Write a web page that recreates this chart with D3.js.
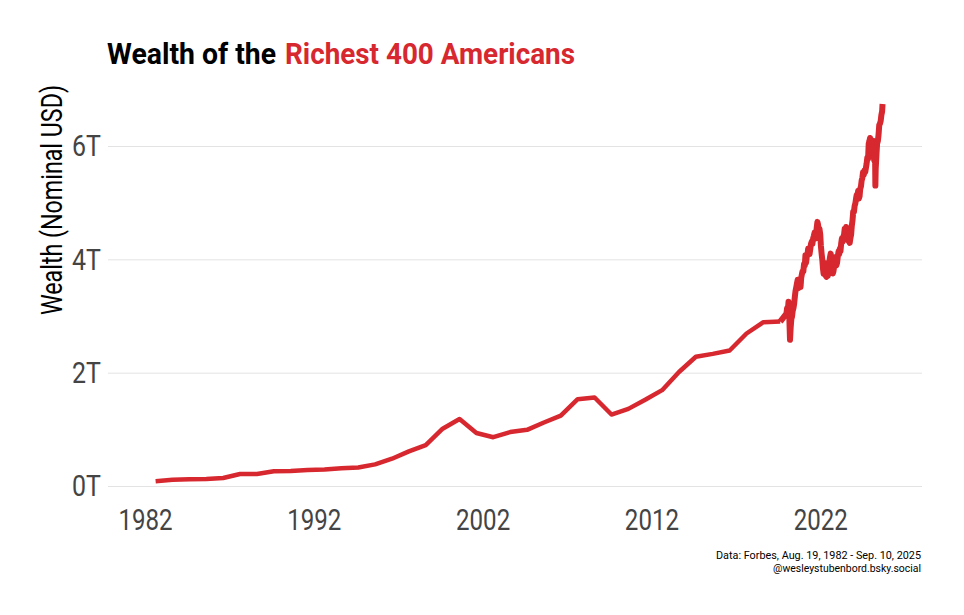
<!DOCTYPE html>
<html>
<head>
<meta charset="utf-8">
<script src="https://cdn.jsdelivr.net/npm/d3@7"></script>
<style>
  body { margin: 0; background: #fff; }
  text { font-family: Roboto, "Noto Sans", sans-serif; }
</style>
</head>
<body>
<script>

/* Forbes 400 annual list totals (trillions USD) */
var annualDates = ["1982-08-19","1983-08-20","1984-08-20","1985-08-20","1986-08-20","1987-08-20","1988-08-20","1989-08-20","1990-08-20","1991-08-20",
	"1992-08-20","1993-08-20","1994-08-20","1995-08-20","1996-08-20","1997-08-20","1998-08-20","1999-08-20","2000-08-20","2001-08-20",
	"2002-08-20","2003-08-20","2004-08-20","2005-08-20","2006-08-20","2007-08-20","2008-08-20","2009-08-20","2010-08-20","2011-08-20",
	"2012-08-20","2013-08-20","2014-08-20","2015-08-20","2016-08-20","2017-08-20","2018-08-20","2019-08-20"];
var annualValues = [0.092,0.118,0.126,0.134,0.150,0.220,0.222,0.268,0.272,0.290,
	0.300,0.320,0.335,0.390,0.490,0.620,0.730,1.020,1.190,0.945,
	0.870,0.960,1.000,1.130,1.250,1.540,1.570,1.270,1.370,1.530,
	1.700,2.020,2.290,2.340,2.400,2.700,2.900,2.910];

/* real-time estimates since 2020 (trillions USD) */
var rtDates = ["2020-01-01","2020-01-15","2020-02-01","2020-02-15","2020-03-01","2020-03-10","2020-03-18","2020-04-01","2020-04-15","2020-05-01",
	"2020-05-15","2020-06-01","2020-06-15","2020-07-01","2020-07-15","2020-08-01","2020-08-15","2020-09-01","2020-09-15","2020-10-01",
	"2020-10-15","2020-11-01","2020-11-15","2020-12-01","2020-12-15",
	"2021-01-01","2021-01-15","2021-02-01","2021-02-15","2021-03-01","2021-03-15","2021-04-01","2021-04-15","2021-05-01","2021-05-15",
	"2021-06-01","2021-06-15","2021-07-01","2021-07-15","2021-08-01","2021-08-15","2021-09-01","2021-09-15","2021-10-01","2021-10-15",
	"2021-11-01","2021-11-15","2021-12-01","2021-12-15",
	"2022-01-01","2022-01-15","2022-02-01","2022-02-15","2022-03-01","2022-03-15","2022-04-01","2022-04-15","2022-05-01","2022-05-15",
	"2022-06-01","2022-06-15","2022-07-01","2022-07-15","2022-08-01","2022-08-15","2022-09-01","2022-09-15","2022-10-01","2022-10-15",
	"2022-11-01","2022-11-15","2022-12-01","2022-12-15",
	"2023-01-01","2023-01-15","2023-02-01","2023-02-15","2023-03-01","2023-03-15","2023-04-01","2023-04-15","2023-05-01","2023-05-15",
	"2023-06-01","2023-06-15","2023-07-01","2023-07-15","2023-08-01","2023-08-15","2023-09-01","2023-09-15","2023-10-01","2023-10-15",
	"2023-11-01","2023-11-15","2023-12-01","2023-12-15",
	"2024-01-01","2024-01-15","2024-02-01","2024-02-15","2024-03-01","2024-03-15","2024-04-01","2024-04-15","2024-05-01","2024-05-15",
	"2024-06-01","2024-06-15","2024-07-01","2024-07-15","2024-08-01","2024-08-15","2024-09-01","2024-09-15","2024-10-01","2024-10-15",
	"2024-11-01","2024-11-15","2024-12-01","2024-12-15",
	"2025-01-01","2025-01-15","2025-02-01","2025-02-15","2025-03-01","2025-03-15","2025-04-01","2025-04-08","2025-04-15","2025-05-01",
	"2025-05-15","2025-06-01","2025-06-15","2025-07-01","2025-07-15","2025-08-01","2025-08-15","2025-09-01","2025-09-10"];
var rtValues = [3.05,3.15,3.12,3.26,3.05,2.80,2.59,2.80,2.95,3.00,
	3.10,3.15,3.22,3.35,3.45,3.52,3.58,3.65,3.50,3.55,
	3.62,3.52,3.68,3.75,3.80,
	3.80,3.92,3.90,4.08,3.95,4.05,4.10,4.20,4.15,4.10,
	4.20,4.28,4.32,4.28,4.38,4.42,4.48,4.40,4.38,4.55,
	4.67,4.62,4.48,4.55,
	4.45,4.25,4.10,4.00,3.85,3.75,3.95,3.80,3.72,3.70,
	3.82,3.72,3.85,3.95,4.05,4.11,3.95,3.85,3.76,3.80,
	3.90,4.00,4.05,3.90,
	3.95,4.05,4.15,4.10,4.20,4.15,4.30,4.38,4.32,4.40,
	4.45,4.55,4.52,4.58,4.50,4.35,4.40,4.32,4.30,4.38,
	4.45,4.60,4.70,4.85,
	4.85,4.95,5.00,5.08,5.15,5.10,5.22,5.08,5.12,5.25,
	5.30,5.40,5.45,5.55,5.50,5.58,5.55,5.62,5.70,5.80,
	5.78,6.05,6.10,6.15,
	5.85,6.05,5.90,6.10,5.85,5.75,5.90,5.31,5.60,5.85,
	6.05,6.10,6.20,6.38,6.40,6.45,6.55,6.62,6.75];

var xTickYears = [1982, 1992, 2002, 2012, 2022];
var yTickValues = [0, 2, 4, 6];

var red = "#d7282f";
var width = 964, height = 615;
var panelLeft = 108, panelRight = 922;

/* merge both series */
var parse = d3.timeParse("%Y-%m-%d");
var annual = [];
for (var i = 0; i < annualDates.length; i++) {
	annual.push({ date: parse(annualDates[i]), value: annualValues[i] });
}
var daily = [annual[annual.length - 1]];
for (var i = 0; i < rtDates.length; i++) {
	daily.push({ date: parse(rtDates[i]), value: rtValues[i] });
}

var svg = d3.select("body")
	.append("svg")
	.attr("width", width)
	.attr("height", height);

/* squeeze Roboto into something like Roboto Condensed */
function condense(sel, factor) {
	sel.each(function () {
		var len = this.getComputedTextLength();
		d3.select(this).attr("textLength", len * factor).attr("lengthAdjust", "spacingAndGlyphs");
	});
}

var x = d3.scaleTime()
	.domain([new Date(1980, 0, 1), new Date(2028, 0, 1)])
	.range([111.2, 921.5]);

var y = d3.scaleLinear()
	.domain([0, 6])
	.range([486.5, 146.5]);

/* gridlines */
svg.append("g")
	.selectAll("line")
	.data(yTickValues)
	.enter()
	.append("line")
	.attr("x1", panelLeft)
	.attr("x2", panelRight)
	.attr("y1", function (d) { return y(d); })
	.attr("y2", function (d) { return y(d); })
	.attr("stroke", "#e3e3e3")
	.attr("stroke-width", 1);

/* y axis */
var yAxis = d3.axisLeft(y)
	.tickValues(yTickValues)
	.tickSize(0)
	.tickPadding(7)
	.tickFormat(function (d) { return d + "T"; });

var yAxisGroup = svg.append("g")
	.attr("transform", "translate(" + panelLeft + ",0)")
	.call(yAxis);
yAxisGroup.select(".domain").remove();
yAxisGroup.selectAll("text")
	.attr("fill", "#444")
	.style("font-size", "29px")
	.style("font-family", "Roboto");
condense(yAxisGroup.selectAll("text"), 0.86);

/* x axis */
var xAxis = d3.axisBottom(x)
	.tickValues(xTickYears.map(function (yr) { return new Date(yr, 0, 1); }))
	.tickSize(0)
	.tickPadding(22)
	.tickFormat(d3.timeFormat("%Y"));

var xAxisGroup = svg.append("g")
	.attr("transform", "translate(0,487)")
	.call(xAxis);
xAxisGroup.select(".domain").remove();
xAxisGroup.selectAll("text")
	.attr("fill", "#444")
	.style("font-size", "29px")
	.style("font-family", "Roboto");
condense(xAxisGroup.selectAll("text"), 0.83);

/* the line */
var line = d3.line()
	.x(function (d) { return x(d.date); })
	.y(function (d) { return y(d.value); });

svg.append("path")
	.datum(annual)
	.attr("d", line)
	.attr("fill", "none")
	.attr("stroke", red)
	.attr("stroke-width", 4.5)
	.attr("stroke-linejoin", "round");

/* daily noise makes this part look like a thicker band */
svg.append("path")
	.datum(daily)
	.attr("d", line)
	.attr("fill", "none")
	.attr("stroke", red)
	.attr("stroke-width", 6)
	.attr("stroke-linejoin", "round");

/* y axis title */
svg.append("text")
	.attr("transform", "translate(62,200) rotate(-90)")
	.attr("text-anchor", "middle")
	.attr("fill", "#000")
	.style("font-size", "29px")
	.attr("textLength", 230)
	.attr("lengthAdjust", "spacingAndGlyphs")
	.text("Wealth (Nominal USD)");

/* title */
svg.append("text")
	.attr("x", 107)
	.attr("y", 64)
	.attr("fill", "#000")
	.style("font-size", "30px")
	.style("font-weight", "bold")
	.attr("textLength", 169)
	.attr("lengthAdjust", "spacingAndGlyphs")
	.text("Wealth of the");

svg.append("text")
	.attr("x", 285)
	.attr("y", 64)
	.attr("fill", red)
	.style("font-size", "30px")
	.style("font-weight", "bold")
	.attr("textLength", 290)
	.attr("lengthAdjust", "spacingAndGlyphs")
	.text("Richest 400 Americans");

/* caption */
svg.append("text")
	.attr("x", 921)
	.attr("y", 559)
	.attr("text-anchor", "end")
	.attr("fill", "#000")
	.style("font-size", "11px")
	.attr("textLength", 205)
	.attr("lengthAdjust", "spacingAndGlyphs")
	.text("Data: Forbes, Aug. 19, 1982 - Sep. 10, 2025");

svg.append("text")
	.attr("x", 921)
	.attr("y", 572)
	.attr("text-anchor", "end")
	.attr("fill", "#000")
	.style("font-size", "11px")
	.attr("textLength", 148)
	.attr("lengthAdjust", "spacingAndGlyphs")
	.text("@wesleystubenbord.bsky.social");

</script>
</body>
</html>
